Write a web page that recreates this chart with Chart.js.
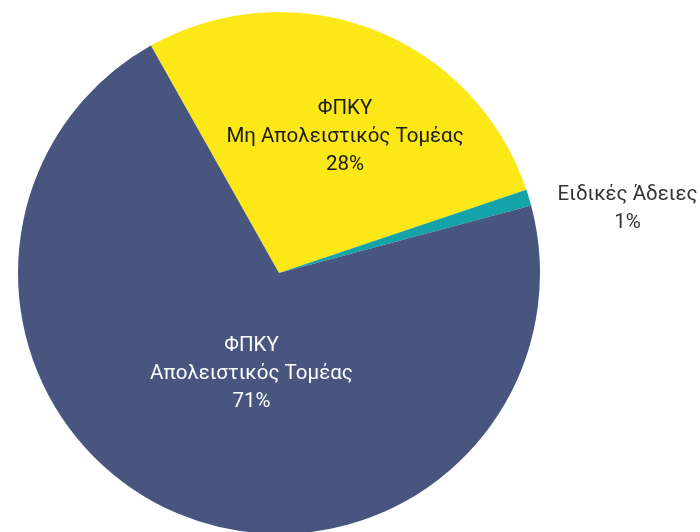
<!DOCTYPE html>
<html>
<head>
<meta charset="utf-8">
<script src="https://cdn.jsdelivr.net/npm/chart.js@4"></script>
<style>
  html, body { margin: 0; padding: 0; background: #fff; overflow: hidden; }
  #wrap { width: 700px; height: 534px; }
</style>
</head>
<body>
<div id="wrap"><canvas id="pieChart"></canvas></div>
<script>
// Slices in drawing order (clockwise from the start angle)
const labels = [
  ["ΦΠΚΥ", "Μη Απολειστικός Τομέας"],
  ["Ειδικές Άδειες"],
  ["ΦΠΚΥ", "Απολειστικός Τομέας"]
];
const values = [28, 1, 71];
const colors = ["#FCE816", "#14A3A8", "#47557F"];
const textColors = ["#1b1b1b", "#333333", "#ffffff"];

// where each label sits: angle offset from slice middle (deg) and distance as a fraction of radius
const labelPlace = [
  { dAngle: 4.4, dist: 0.59 },
  { dAngle: 5.9, dist: 1.36 },
  { dAngle: -7.1, dist: 0.39 }
];

const sliceLabels = {
  id: 'sliceLabels',
  afterDatasetsDraw(chart) {
    const ctx = chart.ctx;
    const meta = chart.getDatasetMeta(0);
    const total = values.reduce((a, b) => a + b, 0);
    ctx.save();
    ctx.font = '20.5px "Roboto", sans-serif';
    ctx.textAlign = 'center';
    ctx.textBaseline = 'middle';
    meta.data.forEach((arc, i) => {
      const p = arc.getProps(['x', 'y', 'startAngle', 'endAngle', 'outerRadius'], true);
      const mid = (p.startAngle + p.endAngle) / 2 + labelPlace[i].dAngle * Math.PI / 180;
      const r = p.outerRadius * labelPlace[i].dist;
      const cx = p.x + Math.cos(mid) * r;
      const cy = p.y + Math.sin(mid) * r + 3;
      const lines = labels[i].concat([Math.round(values[i] / total * 100) + '%']);
      const lh = 28;
      ctx.fillStyle = textColors[i];
      lines.forEach((t, k) => {
        ctx.fillText(t, cx, cy + (k - (lines.length - 1) / 2) * lh);
      });
    });
    ctx.restore();
  }
};

new Chart(document.getElementById('pieChart'), {
  type: 'pie',
  data: {
    labels: labels.map(l => l.join(' ')),
    datasets: [{
      data: values,
      backgroundColor: colors,
      borderWidth: 0
    }]
  },
  options: {
    responsive: true,
    maintainAspectRatio: false,
    animation: false,
    rotation: -29.4,
    layout: { padding: { left: 18, right: 160, top: 12, bottom: 0 } },
    plugins: {
      legend: { display: false },
      tooltip: { enabled: false }
    }
  },
  plugins: [sliceLabels]
});
</script>
</body>
</html>
